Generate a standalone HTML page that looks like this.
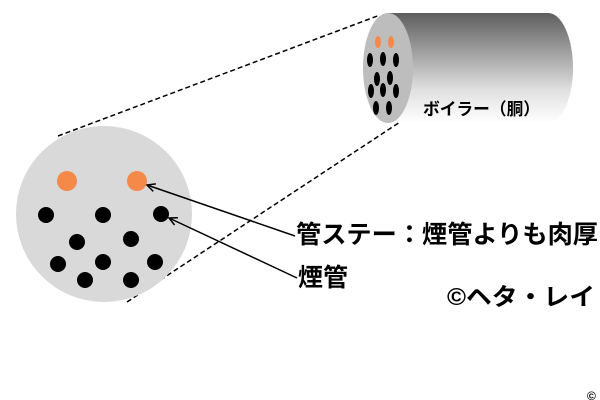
<!DOCTYPE html>
<html><head><meta charset="utf-8"><style>
html,body{margin:0;padding:0;background:#fff;}
svg{display:block}
text{font-family:"Liberation Sans","Noto Sans CJK JP",sans-serif;font-weight:bold;fill:#000}
</style></head><body>
<svg width="600" height="400" viewBox="0 0 600 400" xmlns="http://www.w3.org/2000/svg">
<defs>
<linearGradient id="g" x1="0" y1="0" x2="0" y2="1">
<stop offset="0" stop-color="#5e5e5e"/>
<stop offset="0.7" stop-color="#e0e0e0"/>
<stop offset="1" stop-color="#ffffff"/>
</linearGradient>
<marker id="a" markerWidth="10" markerHeight="10" refX="9" refY="5" orient="auto" markerUnits="userSpaceOnUse">
<path d="M1,1 L9,5 L1,9" fill="none" stroke="#000" stroke-width="1.5"/>
</marker>
</defs>
<!-- cylinder -->
<path d="M388,13 L548,13 A25,55 0 0 1 548,123 L388,123 Z" fill="url(#g)"/>
<ellipse cx="388" cy="68" rx="25" ry="55" fill="#bdbdbd"/>
<g fill="#f4894a">
<ellipse cx="378" cy="42" rx="3" ry="6"/><ellipse cx="391" cy="42" rx="3" ry="6"/></g>
<g fill="#000">
<ellipse cx="370" cy="60" rx="3" ry="7"/><ellipse cx="383" cy="59" rx="3" ry="7"/><ellipse cx="396" cy="60" rx="3" ry="7"/>
<ellipse cx="377" cy="79" rx="3" ry="7"/><ellipse cx="390" cy="78" rx="3" ry="7"/>
<ellipse cx="371" cy="91" rx="3" ry="7"/><ellipse cx="383" cy="90" rx="3" ry="7"/><ellipse cx="396" cy="91" rx="3" ry="7"/>
<ellipse cx="376" cy="108" rx="3" ry="7"/><ellipse cx="389" cy="108" rx="3" ry="7"/></g>
<text x="423" y="115" font-size="17" textLength="117" lengthAdjust="spacingAndGlyphs">ボイラー（胴）</text>
<!-- dashed -->
<line x1="58" y1="136" x2="380" y2="15" stroke="#000" stroke-width="1.5" stroke-dasharray="5,3"/>
<line x1="127" y1="302" x2="400" y2="122" stroke="#000" stroke-width="1.5" stroke-dasharray="5,3"/>
<!-- big circle -->
<circle cx="104" cy="214" r="88" fill="#d9d9d9"/>
<g fill="#f4894a"><circle cx="67" cy="181" r="10"/><circle cx="137" cy="181" r="10"/></g>
<g fill="#000">
<circle cx="46" cy="215" r="8"/><circle cx="103" cy="215" r="8"/><circle cx="161" cy="214" r="8"/>
<circle cx="77" cy="242" r="8"/><circle cx="131" cy="239" r="8"/>
<circle cx="58" cy="264" r="8"/><circle cx="103" cy="262" r="8"/><circle cx="155" cy="262" r="8"/>
<circle cx="85" cy="280" r="8"/><circle cx="131" cy="280" r="8"/></g>
<!-- arrows -->
<line x1="295" y1="236" x2="147" y2="185" stroke="#000" stroke-width="1.5" marker-end="url(#a)"/>
<line x1="297" y1="278" x2="169" y2="218" stroke="#000" stroke-width="1.5" marker-end="url(#a)"/>
<text x="296" y="243" font-size="25" textLength="302" lengthAdjust="spacingAndGlyphs">管ステー：煙管よりも肉厚</text>
<text x="298" y="286" font-size="25">煙管</text>
<text x="447" y="305" font-size="24" textLength="148" lengthAdjust="spacingAndGlyphs">©ヘタ・レイ</text>
<text x="587" y="400" font-size="12" font-weight="normal">©</text>
</svg>
</body></html>
